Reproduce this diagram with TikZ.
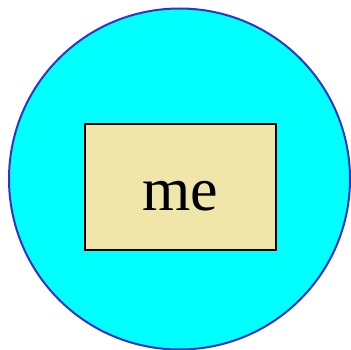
\documentclass[tikz,border=0pt]{standalone}
\usepackage{fontspec}
\setmainfont{Liberation Serif}
\usetikzlibrary{positioning}
\definecolor{ringblue}{RGB}{51,51,204}
\definecolor{ringfill}{RGB}{0,255,255}
\definecolor{boxkhaki}{RGB}{240,230,170}

\begin{document}
\begin{tikzpicture}[x=1pt,y=-1pt]
\useasboundingbox (0,0) rectangle (351,350);

% ---------------- outer disc ----------------
\node[circle,draw=ringblue,fill=ringfill,line width=2pt,
      minimum size=341pt,inner sep=0pt] (outer) at (179.5,179) {};

% ---------------- inner box ----------------
\node[draw=black,fill=boxkhaki,line width=2.6pt,
      minimum width=191pt,minimum height=126pt,inner sep=0pt,
      text height=48pt,text depth=0pt,
      font=\fontsize{62}{62}\selectfont] (me) at (180.5,187) {me};

\end{tikzpicture}
\end{document}
